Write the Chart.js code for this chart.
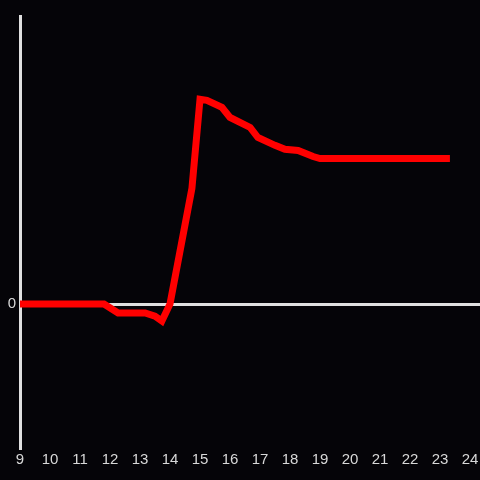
<!DOCTYPE html>
<html>
<head>
<meta charset="utf-8">
<script src="https://cdn.jsdelivr.net/npm/chart.js@4/dist/chart.umd.min.js"></script>
<style>
html,body{margin:0;padding:0;background:#050408;}
#wrap{width:480px;height:480px;}
</style>
</head>
<body>
<div id="wrap"><canvas id="c" width="480" height="480"></canvas></div>
<script>
const hours = [9, 11.8, 12.27, 13.17, 13.5, 13.73, 14.0, 14.73, 15.0, 15.23, 15.73, 16.0, 16.67, 16.93, 17.5, 17.83, 18.27, 18.77, 19.0, 23.33];
const values = [0, 0, -3.1, -3.1, -4.2, -5.9, 0, 40.1, 71.1, 70.7, 68.3, 64.8, 61.3, 57.8, 55.1, 53.7, 53.3, 51.2, 50.5, 50.5];
const xTickLabels = ['9','10','11','12','13','14','15','16','17','18','19','20','21','22','23','24'];
const yTickLabels = ['0'];

const points = hours.map((h, i) => ({x: h, y: values[i]}));

const bg = {
  id: 'bg',
  beforeDraw(chart) {
    const ctx = chart.ctx;
    ctx.save();
    ctx.fillStyle = '#050408';
    ctx.fillRect(0, 0, chart.width, chart.height);
    ctx.restore();
  }
};

new Chart(document.getElementById('c'), {
  type: 'scatter',
  data: {
    datasets: [{
      data: points,
      showLine: true,
      borderColor: '#ff0000',
      backgroundColor: '#ff0000',
      borderWidth: 7,
      borderCapStyle: 'butt',
      borderJoinStyle: 'miter',
      pointRadius: 0,
      tension: 0
    }]
  },
  options: {
    responsive: false,
    animation: false,
    layout: {padding: {top: 16, right: 0, bottom: 0, left: 0}},
    plugins: {legend: {display: false}, tooltip: {enabled: false}},
    scales: {
      x: {
        type: 'linear',
        min: 9,
        max: 24.333,
        afterBuildTicks(scale) {
          scale.ticks = xTickLabels.map(t => ({value: Number(t)}));
        },
        afterFit(scale) { scale.paddingRight = 0; scale.paddingLeft = 0; scale.height = 32; },
        ticks: {
          color: '#d8d8d8',
          font: {family: 'Liberation Sans', size: 15},
          padding: 3,
          maxRotation: 0,
          autoSkip: false,
          callback: (v) => String(v)
        },
        grid: {display: false, drawTicks: false},
        border: {display: false}
      },
      y: {
        type: 'linear',
        min: -50,
        max: 100,
        afterFit(scale) { scale.width = 20; },
        afterBuildTicks(scale) {
          scale.ticks = yTickLabels.map(t => ({value: Number(t)}));
        },
        ticks: {
          color: '#d8d8d8',
          font: {family: 'Liberation Sans', size: 15},
          padding: 4,
          callback: (v) => String(v)
        },
        grid: {color: '#e0e0e0', lineWidth: 3, drawTicks: false},
        border: {display: true, color: '#e0e0e0', width: 3}
      }
    }
  },
  plugins: [bg]
});
</script>
</body>
</html>
